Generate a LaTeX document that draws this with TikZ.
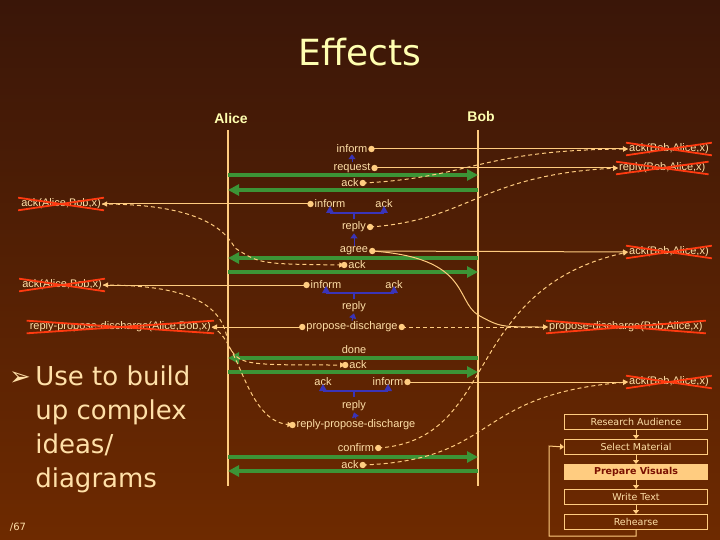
\documentclass[tikz,border=0pt]{standalone}
\usepackage{fontspec}
\setmainfont{Liberation Sans}
\newfontfamily\verd{DejaVu Sans}
\usetikzlibrary{positioning,arrows.meta}
\definecolor{bgtop}{HTML}{3A1608}
\definecolor{bgbot}{HTML}{6E2A00}
\definecolor{cream}{HTML}{FFCC80}
\definecolor{ltext}{HTML}{FFE0A8}
\definecolor{titlecol}{HTML}{FFFFB0}
\definecolor{arrgreen}{HTML}{3C9436}
\definecolor{arrblue}{HTML}{3A34B8}
\definecolor{xred}{HTML}{FF3A10}
\definecolor{darkred}{HTML}{7A1000}
\tikzset{
  lbl/.style={text=ltext, font=\fontsize{11}{12}\selectfont, inner sep=1pt},
  struck/.style={lbl},
  msg/.style={cream, line width=1pt, -{Triangle[length=5pt,width=5pt]}},
  dmsg/.style={msg, dash pattern=on 4pt off 3pt},
  dot/.style={cream, fill=cream},
  bigarr/.style={arrgreen, line width=3.2pt, -{Triangle[length=11pt,width=11pt]}},
  uparr/.style={arrblue, line width=1pt, -{Triangle[length=5pt,width=7pt]}},
  lifeline/.style={cream, line width=2pt},
  stepbox/.style={draw=cream, line width=1pt, minimum width=143pt, minimum height=15pt,
      text=ltext, font=\verd\fontsize{9.5}{10}\selectfont, inner sep=0pt},
  small/.style={cream, line width=1pt, -{Triangle[length=4pt,width=6pt]}}
}
\begin{document}
\begin{tikzpicture}[x=1pt,y=-1pt]
  \shade[top color=bgtop, bottom color=bgbot] (0,0) rectangle (720,540);
  \useasboundingbox (0,0) rectangle (720,540);

  % title and agents
  \node[text=titlecol, font=\verd\fontsize{36}{40}\selectfont] (title) at (360,52) {Effects};
  \node[text=titlecol, font=\bfseries\fontsize{14}{16}\selectfont] (alice) at (231,118) {Alice};
  \node[text=titlecol, font=\bfseries\fontsize{14}{16}\selectfont] (bob) at (481,116) {Bob};
  \draw[lifeline] (228,130) -- (228,486);
  \draw[lifeline] (478,130) -- (478,486);

  % struck out beliefs, right
  \node[struck, anchor=west] (bak1) at (628,149) {ack(Bob,Alice,x)};
  \node[struck, anchor=west] (brep) at (618,168) {reply(Bob,Alice,x)};
  \node[struck, anchor=west] (bak2) at (628,252) {ack(Bob,Alice,x)};
  \node[struck, anchor=west] (bprop) at (548,327) {propose-discharge(Bob,Alice,x)};
  \node[struck, anchor=west] (bak3) at (628,382) {ack(Bob,Alice,x)};
  % struck out beliefs, left
  \node[struck, anchor=east] (aak1) at (102,204) {ack(Alice,Bob,x)};
  \node[struck, anchor=east] (aak2) at (103,285) {ack(Alice,Bob,x)};
  \node[struck, anchor=east] (arep) at (212,327) {reply-propose-discharge(Alice,Bob,x)};
  \foreach \n in {bak1,brep,bak2,bprop,bak3,aak1,aak2,arep}
    \draw[xred, line width=1.8pt] ([xshift=-2pt]\n.north west) -- ([xshift=2pt]\n.south east)
      ([xshift=-2pt]\n.south west) -- ([xshift=2pt]\n.north east);

  % acts
  \node[lbl] (inf1) at (352,149) {inform};
  \node[lbl] (req) at (352,168) {request};
  \node[lbl] (ack1) at (350,183) {ack};
  \node[lbl] (inf2) at (330,204) {inform};
  \node[lbl] (ack2) at (384,204) {ack};
  \node[lbl] (rep1) at (354,227) {reply};
  \node[lbl] (agr) at (354,251) {agree};
  \node[lbl] (ack3) at (357,265) {ack};
  \node[lbl] (inf3) at (326,285) {inform};
  \node[lbl] (ack4) at (394,285) {ack};
  \node[lbl] (rep2) at (354,307) {reply};
  \node[lbl] (prop) at (352,327) {propose-discharge};
  \node[lbl] (done) at (354,350) {done};
  \node[lbl] (ack5) at (358,365) {ack};
  \node[lbl] (ack6) at (323,382) {ack};
  \node[lbl] (inf4) at (388,382) {inform};
  \node[lbl] (rep3) at (354,406) {reply};
  \node[lbl] (rpd) at (356,425) {reply-propose-discharge};
  \node[lbl] (conf) at (356,448) {confirm};
  \node[lbl] (ack7) at (350,465) {ack};

  % dots
  \coordinate (d1) at ([xshift=3pt]inf1.east);
  \coordinate (d2) at ([xshift=3pt]req.east);
  \coordinate (d3) at ([xshift=3pt]ack1.east);
  \coordinate (d4) at ([xshift=-3pt]inf2.west);
  \coordinate (d5) at ([xshift=3pt]rep1.east);
  \coordinate (d6) at ([xshift=3pt]agr.east);
  \coordinate (d7) at ([xshift=-3pt]ack3.west);
  \coordinate (d8) at ([xshift=-3pt]inf3.west);
  \coordinate (d9) at ([xshift=-3pt]prop.west);
  \coordinate (d10) at ([xshift=3pt]prop.east);
  \coordinate (d11) at ([xshift=-3pt]ack5.west);
  \coordinate (d12) at ([xshift=3pt]inf4.east);
  \coordinate (d13) at ([xshift=-3pt]rpd.west);
  \coordinate (d14) at ([xshift=3pt]conf.east);
  \coordinate (d15) at ([xshift=3pt]ack7.east);
  \foreach \d in {d1,d2,d3,d4,d5,d6,d7,d8,d9,d10,d11,d12,d13,d14,d15}
    \fill[dot] (\d) circle (3.2pt);

  % green performatives
  \draw[bigarr] (228,175) -- (478,175);
  \draw[bigarr] (478,190) -- (228,190);
  \draw[bigarr] (478,258) -- (228,258);
  \draw[bigarr] (228,272) -- (478,272);
  \draw[bigarr] (478,358) -- (228,358);
  \draw[bigarr] (228,372) -- (478,372);
  \draw[bigarr] (228,457) -- (478,457);
  \draw[bigarr] (478,471) -- (228,471);

  % blue structure
  \draw[uparr] (req.north) -- (inf1.south);
  \draw[uparr] (agr.north) -- (rep1.south);
  \draw[uparr] (prop.north) -- (rep2.south);
  \draw[uparr] (rpd.north) -- (rep3.south);
  \foreach \l/\r/\y in {inf2/ack2/213, inf3/ack4/293, ack6/inf4/391}{
    \draw[arrblue, line width=1.2pt] (\l.south |- 0,\y) -- (\r.south |- 0,\y);
    \draw[arrblue, line width=1.2pt] (354,\y) -- (354,\y+6);
    \fill[arrblue] (\l.south |- 0,\y) ++(-4,0) -- ++(8,0) -- ++(-4,-7) -- cycle;
    \fill[arrblue] (\r.south |- 0,\y) ++(-4,0) -- ++(8,0) -- ++(-4,-7) -- cycle;
  }

  % belief links
  \draw[msg] (d1) -- (bak1.west);
  \draw[msg] (d2) -- (brep.west);
  \draw[msg] (d4) -- (aak1.east);
  \draw[msg] (d6) -- (bak2.west);
  \draw[msg] (d8) -- (aak2.east);
  \draw[msg] (d9) -- (arep.east);
  \draw[msg] (d12) -- (bak3.west);
  \draw[msg] (d6) .. controls (470,258) and (455,300) .. (478,315) .. controls (500,327) .. (bprop.west);
  \draw[dmsg] (d3) .. controls (470,178) and (480,150) .. (bak1.west);
  \draw[dmsg] (d5) .. controls (470,220) and (480,175) .. (brep.west);
  \draw[dmsg] (d10) -- (bprop.west);
  \draw[dmsg] (aak1.east) .. controls (200,204) and (225,230) .. (235,248) .. controls (260,264) .. (d7);
  \draw[dmsg] (aak2.east) .. controls (200,285) and (225,310) .. (228,345) .. controls (240,365) .. (d11);
  \draw[dmsg] (arep.east) .. controls (240,340) and (245,420) .. (d13);
  \draw[dmsg] (d14) .. controls (500,440) and (460,290) .. (bak2.west);
  \draw[dmsg] (d15) .. controls (500,460) and (470,395) .. (bak3.west);

  % bullet and page
  \node[text=ltext, font=\verd\fontsize{26}{34}\selectfont, anchor=north west, align=left, inner sep=0pt] (bullet) at (9,366)
    {➢\,Use to build\\\phantom{➢\,}up complex\\\phantom{➢\,}ideas/\\\phantom{➢\,}diagrams};
  \node[text=ltext, font=\verd\fontsize{10}{12}\selectfont] (page) at (18,527) {/67};

  % process boxes
  \node[stepbox] (s1) at (636,422) {Research Audience};
  \node[stepbox, below=9pt of s1] (s2) {Select Material};
  \node[stepbox, below=9pt of s2, fill=cream, text=darkred, font=\verd\bfseries\fontsize{9.5}{10}\selectfont] (s3) {Prepare Visuals};
  \node[stepbox, below=9pt of s3] (s4) {Write Text};
  \node[stepbox, below=9pt of s4] (s5) {Rehearse};
  \draw[small] (s1) -- (s2);
  \draw[small] (s2) -- (s3);
  \draw[small] (s3) -- (s4);
  \draw[small] (s4) -- (s5);
  \draw[small] (s5.south) -- ++(0,6) -| (549,446) -- (s2.west);
\end{tikzpicture}
\end{document}
